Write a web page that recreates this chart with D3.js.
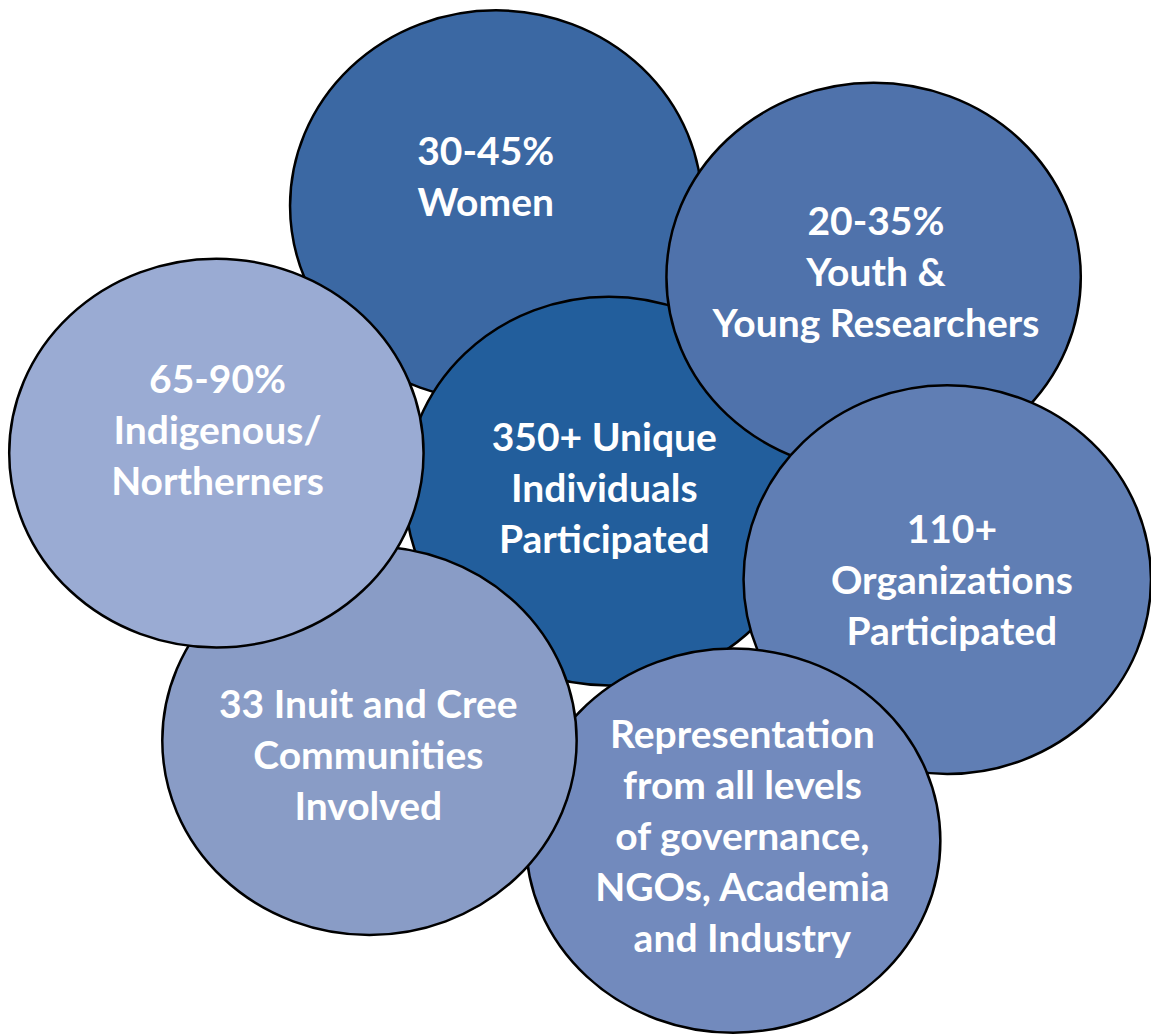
<!DOCTYPE html>
<html>
<head>
<meta charset="utf-8">
<script src="https://cdn.jsdelivr.net/npm/d3@7"></script>
<style>
  html, body { margin: 0; padding: 0; background: #fff; }
  svg { display: block; }
</style>
</head>
<body>
<svg id="bubbles"></svg>
<script>
// bubble groups, in drawing order (bottom first)
const groups = ['women', 'unique', 'youth', 'orgs', 'representation', 'communities', 'indigenous'];

const labels = [
  ['30-45%', 'Women'],
  ['350+ Unique', 'Individuals', 'Participated'],
  ['20-35%', 'Youth &', 'Young Researchers'],
  ['110+', 'Organizations', 'Participated'],
  ['Representation', 'from all levels', 'of governance,', 'NGOs, Academia', 'and Industry'],
  ['33 Inuit and Cree', 'Communities', 'Involved'],
  ['65-90%', 'Indigenous/', 'Northerners']
];

const fills = ['#3b68a3', '#225e9c', '#4f72ab', '#607eb4', '#728abd', '#899cc6', '#9aabd3'];

// layout in design units (0..100 across, 0..90 down)
const posX = [43.1, 52.9, 75.9, 82.3, 63.7, 32.1, 18.8];
const posY = [17.9, 42.7, 24.1, 50.4, 73.1, 64.4, 39.4];
const radX = [17.9, 17.7, 18.0, 17.7, 18.0, 18.0, 18.0];
const radY = [17.0, 16.9, 16.9, 16.9, 16.7, 16.9, 16.9];
// label block offset from bubble centre
const textDX = [-0.9, -0.4, 0.2, 0.4, 0.8, -0.1, 0.1];
const textDY = [-2.5, -0.25, -0.45, 0.05, -0.35, 1.3, -2.0];

const width = 1151;
const height = 1035;

const xScale = d3.scaleLinear().domain([0, 100]).range([0, width]);
const yScale = d3.scaleLinear().domain([0, 90]).range([0, height]);
// radii are lengths, so scale from zero
const rScale = d3.scaleLinear().domain([0, 100]).range([0, width]);
const ryScale = d3.scaleLinear().domain([0, 90]).range([0, height]);

const lineH = 51;
const fontSize = 39;

const svg = d3.select('#bubbles')
  .attr('width', width)
  .attr('height', height);

const g = svg.selectAll('g.bubble')
  .data(groups)
  .enter()
  .append('g')
  .attr('class', 'bubble');

g.append('ellipse')
  .attr('cx', (d, i) => xScale(posX[i]))
  .attr('cy', (d, i) => yScale(posY[i]))
  .attr('rx', (d, i) => rScale(radX[i]))
  .attr('ry', (d, i) => ryScale(radY[i]))
  .attr('fill', (d, i) => fills[i])
  .attr('stroke', '#000')
  .attr('stroke-width', 2.5);

g.each(function (d, i) {
  const lines = labels[i];
  const cx = xScale(posX[i] + textDX[i]);
  const cy = yScale(posY[i] + textDY[i]);
  // vertically centre the block of lines
  const first = cy - (lines.length - 1) * lineH / 2;
  d3.select(this).append('text')
    .attr('text-anchor', 'middle')
    .attr('font-family', 'Lato, "Open Sans", sans-serif')
    .attr('font-weight', 700)
    .attr('font-size', fontSize)
    .attr('fill', '#fff')
    .selectAll('tspan')
    .data(lines)
    .enter()
    .append('tspan')
    .attr('x', cx)
    .attr('y', (t, j) => first + j * lineH)
    .attr('dy', '0.35em')
    .text(t => t);
});
</script>
</body>
</html>
